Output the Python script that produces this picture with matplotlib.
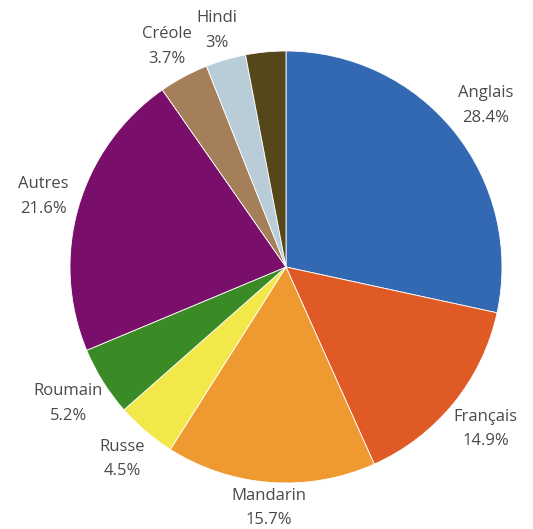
import matplotlib
matplotlib.use("Agg")
import matplotlib.pyplot as plt

categories = ["Anglais", "Français", "Mandarin", "Russe", "Roumain", "Autres", "Créole", "Hindi", ""]
values = [28.4, 14.9, 15.7, 4.5, 5.2, 21.6, 3.7, 3.0, 3.0]
pct_labels = ["28.4%", "14.9%", "15.7%", "4.5%", "5.2%", "21.6%", "3.7%", "3%", ""]
colors = ["#3369b3", "#e05a26", "#ef9a30", "#f3e84a", "#3a8a26", "#7a0f6b",
          "#a57f5a", "#b8cdd8", "#56471a"]

plt.rcParams['font.family'] = ['Open Sans', 'DejaVu Sans']

W, H = 533, 529
fig = plt.figure(figsize=(W / 100, H / 100), dpi=100)
ax = fig.add_axes([0, 0, 1, 1])

labels = [f"{c}\n{p}" if c else "" for c, p in zip(categories, pct_labels)]
cx, cy, R = 286, H - 267, 216
base = 1.19
wedges, texts = ax.pie(values, labels=labels, colors=colors, startangle=90,
                       counterclock=False, center=(cx, cy), radius=R,
                       labeldistance=base,
                       textprops=dict(fontsize=12, color="#4a4a4a", linespacing=1.7,
                                      ha="center", va="center"),
                       wedgeprops=dict(linewidth=0.6, edgecolor="white"))
for t in texts:
    t.set_ha("center")
    t.set_va("center")
# per-label distance adjustments (label placement style)
for i, f in [(2, 1.12), (3, 1.17), (5, 1.17), (6, 1.16), (7, 1.14)]:
    x, y = texts[i].get_position()
    texts[i].set_position((cx + (x - cx) * f / base, cy + (y - cy) * f / base))

ax.set_xlim(0, W)
ax.set_ylim(0, H)
ax.set_aspect("auto")
ax.axis("off")
fig.savefig("out.png", dpi=100)
